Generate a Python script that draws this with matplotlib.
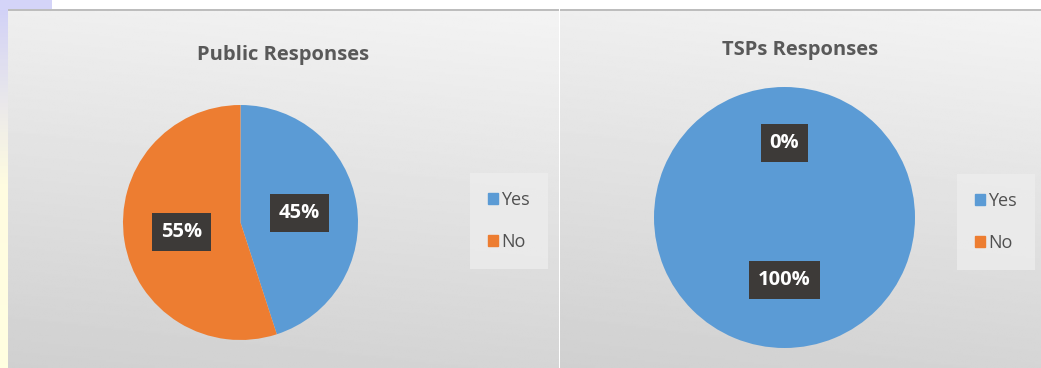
import numpy as np
import matplotlib.pyplot as plt
from matplotlib.patches import Rectangle
from matplotlib.colors import LinearSegmentedColormap

# data
labels = ['Yes', 'No']
public_pct = [45, 55]
tsp_pct = [100, 0]
titles = ['Public Responses', 'TSPs Responses']
colors = ['#5B9BD5', '#ED7D31']

W, H = 1041, 368
fig = plt.figure(figsize=(W / 100, H / 100), dpi=100)
fig.patch.set_facecolor('white')


def px(x0, y0, w, h):
    # pixel box (top-left origin) -> figure fraction rect
    return [x0 / W, 1 - (y0 + h) / H, w / W, h / H]


# left strip of the slide
strip = fig.add_axes(px(0, 0, 8, H))
strip.imshow(np.linspace(0, 1, 100).reshape(-1, 1),
             cmap=LinearSegmentedColormap.from_list('s', ['#d0d0f8', '#fffce0', '#ffffe0']),
             aspect='auto', extent=[0, 1, 0, 1], origin='upper')
strip.axis('off')
top = fig.add_axes(px(0, 0, 52, 10))
top.add_patch(Rectangle((0, 0), 1, 1, color='#d4d4f8'))
top.axis('off')

# panel backgrounds (gray gradient)
gy, gx = np.mgrid[0:1:200j, 0:1:200j]
shade = 0.955 - 0.12 * gy - 0.02 * (1 - gx)
for x0, w in [(8, 551), (560, 481)]:
    bg = fig.add_axes(px(x0, 10, w, H - 10))
    bg.imshow(shade, cmap='gray', vmin=0, vmax=1, aspect='auto', extent=[0, 1, 0, 1])
    bg.axis('off')
    edge = fig.add_axes(px(x0, 9, w, 2))
    edge.add_patch(Rectangle((0, 0), 1, 1, color='#bdbdbd'))
    edge.axis('off')

box = dict(boxstyle='square,pad=0.45', facecolor='#3d3a38', edgecolor='none')
pies = [
    (public_pct, px(123, 105, 235, 235), 0.51),
    (tsp_pct, px(654, 87, 261, 261), 0.52),
]
for i, (vals, rect, pd) in enumerate(pies):
    ax = fig.add_axes(rect)
    wedges, texts, autos = ax.pie(vals, colors=colors, startangle=90, counterclock=False,
                                  autopct='%1.0f%%', pctdistance=pd, radius=1,
                                  wedgeprops=dict(linewidth=0))
    for t in autos:
        t.set_color('white')
        t.set_fontsize(14.5)
        t.set_fontweight('bold')
        t.set_family('Open Sans')
        t.set_bbox(box)
    if i == 1:
        # zero slice label sits a bit further out in the reference
        x, y = autos[1].get_position()
        autos[1].set_position((x, y * 1.1))
        x, y = autos[0].get_position()
        autos[0].set_position((x, y * 0.92))
    ax.set_xlim(-1, 1)
    ax.set_ylim(-1, 1)
    ax.set_aspect('equal')
    ax.axis('off')

# titles and legends
for cx, cy, title in [(283, 55, titles[0]), (800, 50, titles[1])]:
    fig.text(cx / W, 1 - cy / H, title, ha='center', va='center', fontsize=14.5,
             fontweight='bold', color='#595959', family='Open Sans')

handles = [Rectangle((0, 0), 1, 1, color=c) for c in colors]
for lx, ly in [(509, 221), (996, 222)]:
    leg = fig.legend(handles, labels, loc='center', bbox_to_anchor=(lx / W, 1 - ly / H),
                     frameon=True, handlelength=0.55, handleheight=0.55,
                     handletextpad=0.2, labelspacing=1.35, borderpad=1.0, borderaxespad=0,
                     prop=dict(family='Open Sans', size=13))
    leg.get_frame().set_facecolor('#ededed')
    leg.get_frame().set_edgecolor('none')
    leg.get_frame().set_boxstyle('square', pad=0)
    for t in leg.get_texts():
        t.set_color('#505050')

fig.savefig('out.png', dpi=100)
